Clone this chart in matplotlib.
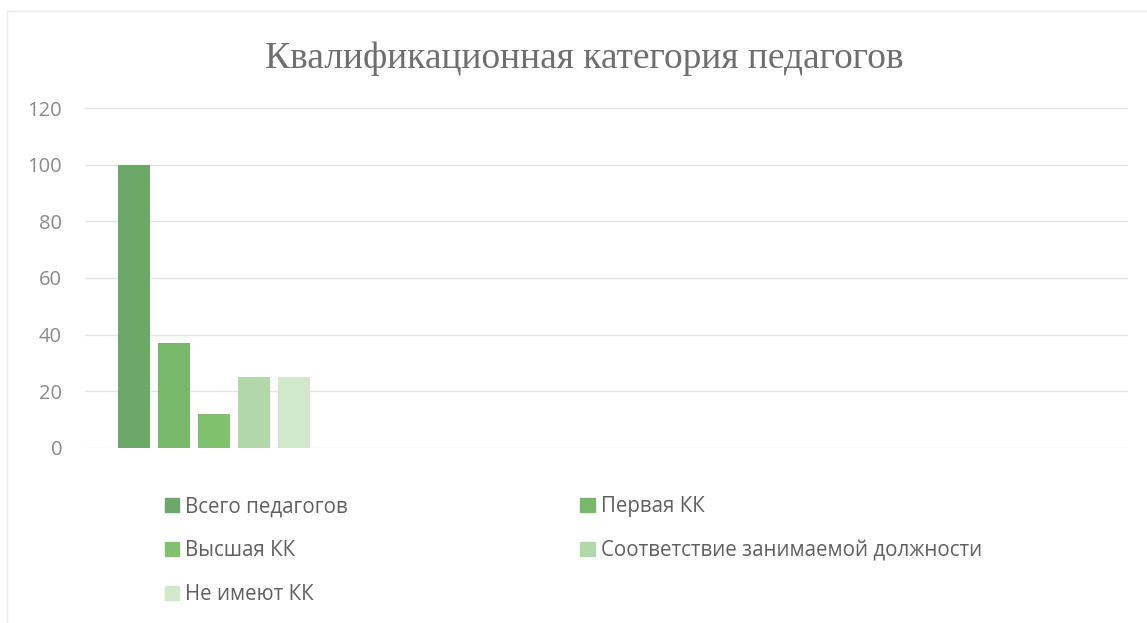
import matplotlib.pyplot as plt
from matplotlib.patches import Patch
from matplotlib.lines import Line2D

series = ["Всего педагогов", "Первая КК", "Высшая КК",
          "Соответствие занимаемой должности", "Не имеют КК"]
values = [100, 37, 12, 25, 25]
colors = ["#6ca866", "#78b86a", "#80c26c", "#b2d8aa", "#d2e8cc"]
yticks = [0, 20, 40, 60, 80, 100, 120]

fig = plt.figure(figsize=(11.47, 6.23), dpi=100)
ax = fig.add_axes([0.0741, 0.281, 0.9095, 0.5456])

x = list(range(len(values)))
ax.bar(x, values, width=0.8, color=colors, zorder=3)

ax.set_ylim(0, 120)
ax.set_xlim(-1.225, 24.85)
ax.set_yticks(yticks)
ax.set_yticklabels([str(t) for t in yticks], fontsize=14.5, color="#8a8a8a",
                   family="Open Sans")
ax.set_xticks([])
ax.tick_params(axis="y", length=0, pad=16.5)
ax.grid(axis="y", color="#e4e4e4", linewidth=1, zorder=0)
for s in ax.spines.values():
    s.set_visible(False)

fig.text(0.509, 0.905, "Квалификационная категория педагогов",
         ha="center", va="center", fontsize=27, color="#6e6e6e",
         family="Liberation Serif")

handles = [Patch(color=c) for c in colors]
order = [0, 2, 4, 1, 3]
fig.legend([handles[i] for i in order], [series[i] for i in order],
           ncol=2, loc="upper left", bbox_to_anchor=(0.1275, 0.233),
           frameon=False, labelcolor="#606060",
           handlelength=0.7, handleheight=0.7, handletextpad=0.3,
           columnspacing=11.3, labelspacing=1.12,
           prop={"family": "Open Sans", "size": 14.8})

# faint chart border (left and top)
fig.add_artist(Line2D([0.0065, 0.0065], [0.0, 0.982], color="#ececec",
                      linewidth=1, transform=fig.transFigure))
fig.add_artist(Line2D([0.0065, 1.0], [0.982, 0.982], color="#ececec",
                      linewidth=1, transform=fig.transFigure))

fig.savefig("out.png", dpi=100)
